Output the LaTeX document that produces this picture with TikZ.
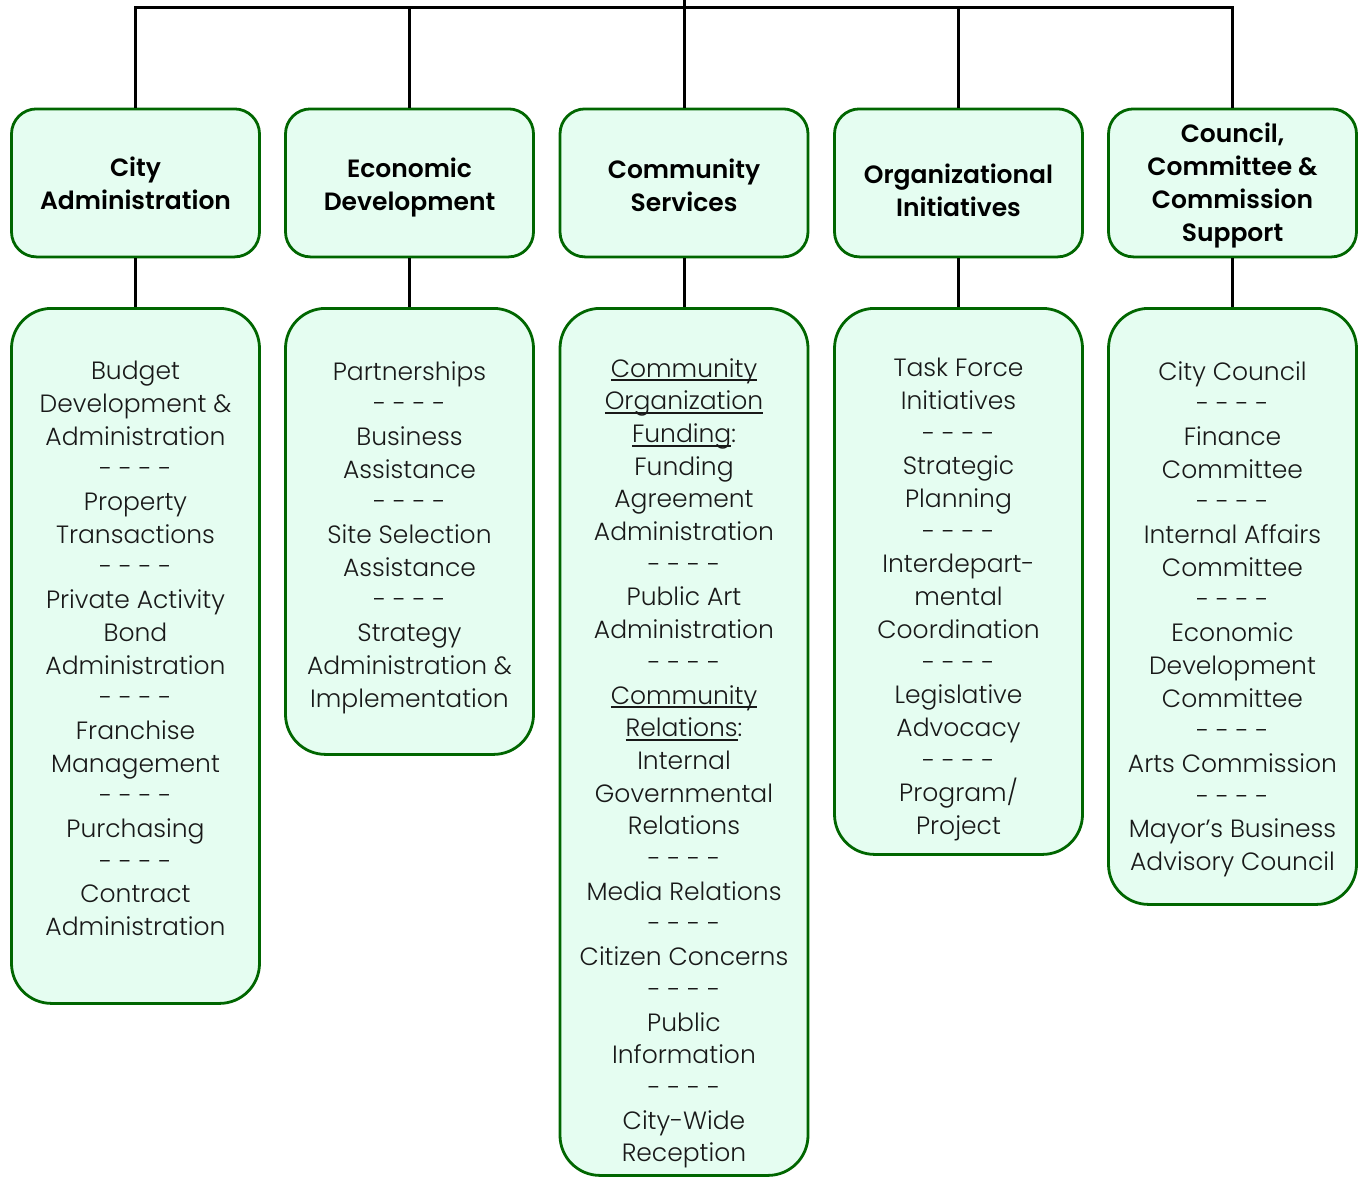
\documentclass[tikz,border=0pt]{standalone}
\usepackage{fontspec}
\setmainfont{Poppins}
\newfontfamily\orgbody{Poppins}[UprightFont=* Light]
\newfontfamily\orgheadfont{Poppins}[UprightFont=* SemiBold]
\definecolor{boxgreen}{RGB}{0,102,0}
\definecolor{boxfill}{RGB}{229,253,241}
\definecolor{inkgray}{RGB}{25,25,25}
\newcommand{\bodyfont}{\orgbody\fontsize{25}{32.7}\selectfont}
\newcommand{\headfont}{\orgheadfont\fontsize{25}{33}\selectfont}
\newcommand{\sep}{- - - -}
% underline drawn as a rule just under the baseline
\newcommand{\orgul}[1]{\setbox0=\hbox{#1}\rlap{\rule[-4.2pt]{\wd0}{1.9pt}}\box0}
\begin{document}
\begin{tikzpicture}[x=1pt,y=-1pt,
  link/.style={line width=3pt, black, line join=miter},
  headbox/.style={draw=boxgreen, fill=boxfill, line width=2.8pt, rounded corners=25pt,
    minimum width=248pt, minimum height=148pt, inner sep=0pt, anchor=north},
  bodybox/.style={draw=boxgreen, fill=boxfill, line width=2.8pt, rounded corners=40pt,
    minimum width=248pt, inner sep=0pt, anchor=north},
  headtext/.style={anchor=north, align=center, inner sep=0pt, font=\headfont,
    text=black, execute at begin node=\strut},
  bodytext/.style={anchor=north, align=center, inner sep=0pt, font=\bodyfont,
    text=inkgray, execute at begin node=\strut},
]
\useasboundingbox (0,0) rectangle (1362,1176);

% header boxes
\node[headbox] (h1) at (135.5,107.5) {};
\node[headbox] (h2) at (409.5,107.5) {};
\node[headbox] (h3) at (684,107.5) {};
\node[headbox] (h4) at (958.5,107.5) {};
\node[headbox] (h5) at (1232.5,107.5) {};

% function boxes
\node[bodybox, minimum height=695pt] (b1) at (135.5,307) {};
\node[bodybox, minimum height=446pt] (b2) at (409.5,307) {};
\node[bodybox, minimum height=867pt] (b3) at (684,307) {};
\node[bodybox, minimum height=546pt] (b4) at (958.5,307) {};
\node[bodybox, minimum height=596pt] (b5) at (1232.5,307) {};

% connectors
\coordinate (root) at (684,0);
\coordinate (bus) at (684,7);
\draw[link] (h1.north) |- (bus) -| (h5.north);
\draw[link] (h2.north) -- (h2.north |- bus);
\draw[link] (h4.north) -- (h4.north |- bus);
\draw[link] (root) -- (h3.north);
\foreach \i in {1,...,5} \draw[link] (h\i.south) -- (b\i.north);

% header titles
\node[headtext] (t1) at (135.5,157) {City\\Administration};
\node[headtext] (t2) at (409.5,158) {Economic\\Development};
\node[headtext] (t3) at (684,159) {Community\\Services};
\node[headtext] (t4) at (958.5,164) {Organizational\\Initiatives};
\node[headtext] (t5) at (1232.5,123) {Council,\\Committee \&\\Commission\\Support};

% function lists
\node[bodytext] (l1) at (135.5,361) {Budget\\Development \&\\Administration\\\sep\\Property\\Transactions\\\sep\\Private Activity\\Bond\\Administration\\\sep\\Franchise\\Management\\\sep\\Purchasing\\\sep\\Contract\\Administration};
\node[bodytext] (l2) at (409.5,361) {Partnerships\\\sep\\Business\\Assistance\\\sep\\Site Selection\\Assistance\\\sep\\Strategy\\Administration \&\\Implementation};
\node[bodytext] (l3) at (684,358) {\orgul{Community}\\\orgul{Organization}\\\orgul{Funding}:\\Funding\\Agreement\\Administration\\\sep\\Public Art\\Administration\\\sep\\\orgul{Community}\\\orgul{Relations}:\\Internal\\Governmental\\Relations\\\sep\\Media Relations\\\sep\\Citizen Concerns\\\sep\\Public\\Information\\\sep\\City-Wide\\Reception};
\node[bodytext] (l4) at (958.5,358) {Task Force\\Initiatives\\\sep\\Strategic\\Planning\\\sep\\Interdepart-\\mental\\Coordination\\\sep\\Legislative\\Advocacy\\\sep\\Program/\\Project};
\node[bodytext] (l5) at (1232.5,361) {City Council\\\sep\\Finance\\Committee\\\sep\\Internal Affairs\\Committee\\\sep\\Economic\\Development\\Committee\\\sep\\Arts Commission\\\sep\\Mayor’s Business\\Advisory Council};
\end{tikzpicture}
\end{document}
